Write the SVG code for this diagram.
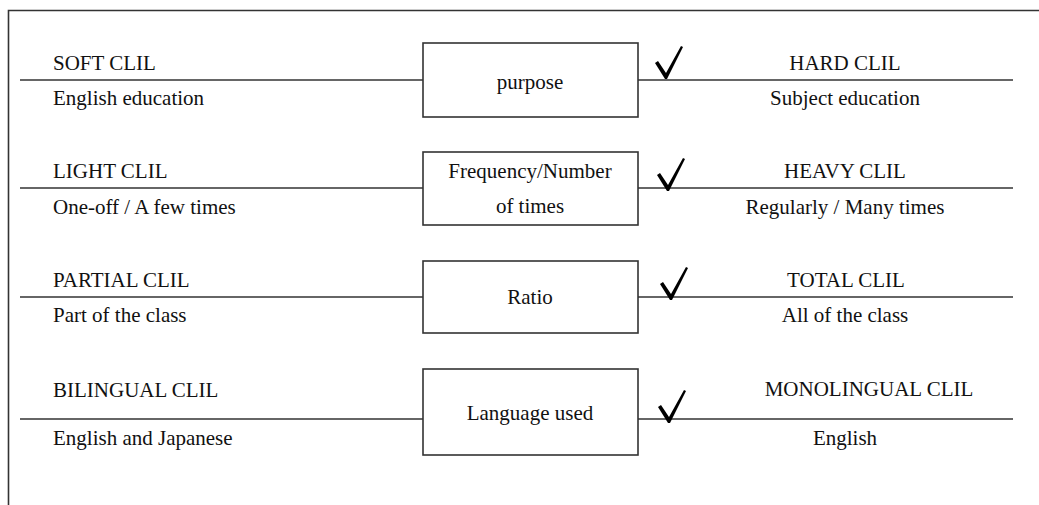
<svg xmlns="http://www.w3.org/2000/svg" width="1039" height="505" viewBox="0 0 1039 505">
<style>
text{font-family:"Liberation Serif","Times New Roman",serif;font-size:21px;fill:#111}
.c{text-anchor:middle}
.ln{stroke:#333;stroke-width:1.6;fill:none}
.box{stroke:#333;stroke-width:1.6;fill:#fff}
.chk{fill:#000}
</style>
<defs>
<path id="check" d="M0,17 L3,15 L11,27 L26,0 L28,1 L12,33 L10,33 Z"/>
</defs>
<rect width="1039" height="505" fill="#fff"/>
<g id="frame">
<path class="ln" d="M8.5,505 V10.5 H1039"/>
</g>
<g id="connectors">
<line class="ln" x1="20" y1="80" x2="423" y2="80"/>
<line class="ln" x1="638" y1="80" x2="1013" y2="80"/>
<line class="ln" x1="20" y1="188" x2="423" y2="188"/>
<line class="ln" x1="638" y1="188" x2="1013" y2="188"/>
<line class="ln" x1="20" y1="297" x2="423" y2="297"/>
<line class="ln" x1="638" y1="297" x2="1013" y2="297"/>
<line class="ln" x1="20" y1="419" x2="423" y2="419"/>
<line class="ln" x1="638" y1="419" x2="1013" y2="419"/>
</g>
<g id="row1">
<text x="53" y="70">SOFT CLIL</text>
<text x="53" y="105">English education</text>
<g id="node-purpose"><rect class="box" x="423" y="43" width="215" height="74"/><text class="c" x="530" y="89">purpose</text></g>
<use href="#check" class="chk" x="655" y="46"/>
<text class="c" x="845" y="70">HARD CLIL</text>
<text class="c" x="845" y="105">Subject education</text>
</g>
<g id="row2">
<text x="53" y="178">LIGHT CLIL</text>
<text x="53" y="214">One-off / A few times</text>
<g id="node-frequency"><rect class="box" x="423" y="152" width="215" height="73"/><text class="c" x="530" y="178">Frequency/Number</text><text class="c" x="530" y="213">of times</text></g>
<use href="#check" class="chk" x="657" y="158"/>
<text class="c" x="845" y="178">HEAVY CLIL</text>
<text class="c" x="845" y="214">Regularly / Many times</text>
</g>
<g id="row3">
<text x="53" y="287">PARTIAL CLIL</text>
<text x="53" y="322">Part of the class</text>
<g id="node-ratio"><rect class="box" x="423" y="261" width="215" height="72"/><text class="c" x="530" y="304">Ratio</text></g>
<use href="#check" class="chk" x="660" y="267"/>
<text class="c" x="846" y="287">TOTAL CLIL</text>
<text class="c" x="845" y="322">All of the class</text>
</g>
<g id="row4">
<text x="53" y="397">BILINGUAL CLIL</text>
<text x="53" y="445">English and Japanese</text>
<g id="node-language"><rect class="box" x="423" y="369" width="215" height="86"/><text class="c" x="530" y="420">Language used</text></g>
<use href="#check" class="chk" x="658" y="390"/>
<text class="c" x="869" y="396">MONOLINGUAL CLIL</text>
<text class="c" x="845" y="445">English</text>
</g>
</svg>
